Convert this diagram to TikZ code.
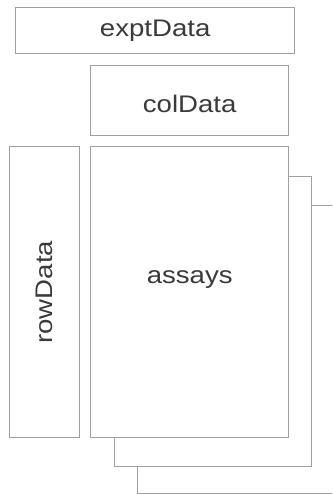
\documentclass[tikz,border=0pt]{standalone}
\usepackage{fontspec}
\setmainfont{Liberation Sans}[FakeStretch=1.15]
\usepackage{tikz}
\usetikzlibrary{positioning}

\definecolor{boxgray}{RGB}{160,160,160}
\definecolor{txtgray}{RGB}{58,58,58}

\begin{document}
\begin{tikzpicture}[x=1pt, y=-1pt,
    slot/.style={draw=boxgray, line width=1.4pt, fill=white, rectangle, anchor=north west, inner sep=0pt},
    lbl/.style={text=txtgray, font=\fontsize{24}{28}\selectfont, inner sep=0pt}]
\useasboundingbox (0,0) rectangle (332,494);
\clip (0,0) rectangle (332,494);

% stacked assay sheets behind
\node[slot, minimum width=200pt, minimum height=288pt] (sheetC) at (137,205) {};
\node[slot, minimum width=197pt, minimum height=290pt] (sheetB) at (114,176) {};

% main blocks
\node[slot, minimum width=279pt, minimum height=46pt] (expt) at (15,7) {};
\node[lbl] (exptText) at (expt.center) {exptData};

\node[slot, minimum width=198pt, minimum height=70pt] (col) at (90,65) {};
\node[lbl] (colText) at ([yshift=-3pt]col.center) {colData};

\node[slot, minimum width=70pt, minimum height=291pt] (row) at (9,146) {};
\node[lbl, rotate=90] (rowText) at (row.center) {rowData};

\node[slot, minimum width=198pt, minimum height=291pt] (assays) at (90,146) {};
\node[lbl] (assaysText) at ([yshift=13pt]assays.center) {assays};

\end{tikzpicture}
\end{document}
